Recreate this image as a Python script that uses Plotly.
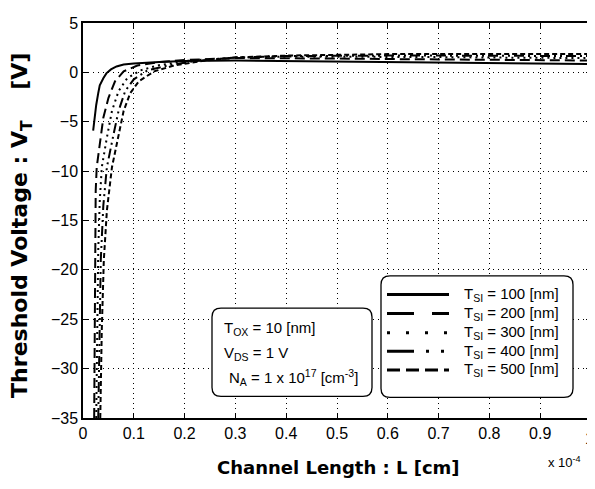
import plotly.graph_objects as go

# ---- data (L in units of 1e-4 cm, VT in V) ----
L_100 = [0.020, 0.023, 0.026, 0.030, 0.033, 0.040, 0.046, 0.055, 0.066, 0.080, 0.100, 0.150, 0.200, 0.300, 0.400, 0.500, 0.600, 0.700, 0.800, 0.900, 1.000]
V_100 = [-5.9, -4.5, -3.3, -2.1, -1.3, -0.6, -0.1, 0.3, 0.6, 0.8, 0.9, 1.05, 1.15, 1.2, 1.15, 1.1, 1.05, 1.0, 0.95, 0.9, 0.85]

L_200 = [0.022, 0.023, 0.024, 0.025, 0.027, 0.033, 0.040, 0.050, 0.063, 0.080, 0.107, 0.150, 0.200, 0.300, 0.400, 0.500, 0.600, 0.700, 0.800, 0.900, 1.000]
V_200 = [-35, -25, -18, -12, -9.6, -7.3, -4.6, -2.6, -0.9, 0.1, 0.7, 1.05, 1.25, 1.45, 1.45, 1.4, 1.35, 1.3, 1.25, 1.2, 1.2]

L_300 = [0.026, 0.028, 0.030, 0.033, 0.037, 0.047, 0.057, 0.070, 0.087, 0.113, 0.147, 0.200, 0.250, 0.300, 0.400, 0.500, 0.600, 0.700, 0.800, 0.900, 1.000]
V_300 = [-35, -25, -18, -13, -9.6, -6.6, -3.9, -1.9, -0.6, 0.2, 0.7, 1.15, 1.35, 1.5, 1.6, 1.6, 1.6, 1.55, 1.5, 1.5, 1.45]

L_400 = [0.030, 0.032, 0.035, 0.040, 0.047, 0.060, 0.070, 0.083, 0.100, 0.127, 0.167, 0.220, 0.300, 0.400, 0.500, 0.600, 0.700, 0.800, 0.900, 1.000]
V_400 = [-35, -26, -19, -13.5, -9.6, -6.3, -3.9, -1.9, -0.7, 0.2, 0.7, 1.15, 1.5, 1.65, 1.7, 1.7, 1.7, 1.7, 1.65, 1.65]

L_500 = [0.034, 0.037, 0.041, 0.047, 0.057, 0.070, 0.080, 0.093, 0.110, 0.140, 0.180, 0.240, 0.300, 0.400, 0.500, 0.600, 0.700, 0.800, 0.900, 1.000]
V_500 = [-35, -26, -19, -14, -9.6, -6.3, -3.9, -2.1, -0.9, 0.1, 0.7, 1.2, 1.5, 1.7, 1.8, 1.85, 1.85, 1.85, 1.85, 1.85]

series_labels = ["100", "200", "300", "400", "500"]
x_ticks = [0, 0.1, 0.2, 0.3, 0.4, 0.5, 0.6, 0.7, 0.8, 0.9, 1.0]
x_ticktext = ["0", "0.1", "0.2", "0.3", "0.4", "0.5", "0.6", "0.7", "0.8", "0.9", "1"]
y_ticks = [-35, -30, -25, -20, -15, -10, -5, 0, 5]

series = [(L_100, V_100), (L_200, V_200), (L_300, V_300), (L_400, V_400), (L_500, V_500)]
trace_dash = ["solid", "10px,5px", "2px,4px", "10px,4px,2px,4px,2px,4px", "5px,3px"]
legend_dash = ["solid", "27px,18px", "3px,16px", "27px,12px,3px,12px,3px,12px", "13px,6px"]

W, H = 595, 489
OFF = 8  # page body margin offset in the screenshot
# target plot area in screenshot pixels: x 83..591, y 15..418
ML = 83 - OFF
MT = 15 - OFF
MR = W - (591 - OFF)
MB = H - (418 - OFF)
PW, PH = W - ML - MR, H - MT - MB


def P(x, y):
    """screenshot pixel -> paper coords"""
    return ((x - OFF - ML) / PW, (H - MB - (y - OFF)) / PH)


def rounded_path(x0, y0, x1, y1, r):
    def pt(x, y):
        a, b = P(x, y)
        return f"{a:.5f},{b:.5f}"
    return (f"M {pt(x0+r,y0)} L {pt(x1-r,y0)} Q {pt(x1,y0)} {pt(x1,y0+r)} "
            f"L {pt(x1,y1-r)} Q {pt(x1,y1)} {pt(x1-r,y1)} L {pt(x0+r,y1)} "
            f"Q {pt(x0,y1)} {pt(x0,y1-r)} L {pt(x0,y0+r)} Q {pt(x0,y0)} {pt(x0+r,y0)} Z")


fig = go.Figure()
for (lx, vy), d, lab in zip(series, trace_dash, series_labels):
    fig.add_trace(go.Scatter(x=lx, y=vy, mode="lines",
                             line=dict(color="black", width=2, dash=d),
                             name=f"T_SI = {lab} [nm]", showlegend=False))

shapes = []
annotations = []
tfont = dict(family="Liberation Sans, Arial, sans-serif", size=15, color="black")
tickfont = dict(family="Liberation Sans, Arial, sans-serif", size=16, color="black")

# parameter box
shapes.append(dict(type="path", xref="paper", yref="paper",
                   path=rounded_path(212, 306, 372, 396, 9),
                   line=dict(color="black", width=1.3), fillcolor="white", layer="above"))
for txt, yy, xx in [("T<sub>OX</sub> = 10 [nm]", 327, 222),
                    ("V<sub>DS</sub> = 1 V", 352, 222),
                    ("N<sub>A</sub> = 1 x 10<sup>17</sup> [cm<sup>-3</sup>]", 377, 227)]:
    a, b = P(xx, yy)
    annotations.append(dict(x=a, y=b, xref="paper", yref="paper", text=txt,
                            showarrow=False, xanchor="left", yanchor="middle", font=tfont))

# legend box
shapes.append(dict(type="path", xref="paper", yref="paper",
                   path=rounded_path(381, 273, 573, 397, 9),
                   line=dict(color="black", width=1.3), fillcolor="white", layer="above"))
rows_y = [292, 311.5, 331, 350, 369]
for lab, d, yy in zip(series_labels, legend_dash, rows_y):
    a0, b0 = P(387, yy)
    a1, _ = P(449, yy)
    shapes.append(dict(type="line", xref="paper", yref="paper", x0=a0, x1=a1, y0=b0, y1=b0,
                       line=dict(color="black", width=3, dash=d), layer="above"))
    a, b = P(462, yy)
    annotations.append(dict(x=a, y=b, xref="paper", yref="paper",
                            text=f"T<sub>SI</sub> = {lab} [nm]", showarrow=False,
                            xanchor="left", yanchor="middle", font=tfont))

# last x tick label (plotly drops it at the right edge of the page)
_, b = P(0, 439)
annotations.append(dict(x=x_ticks[-1], y=b, xref="x", yref="paper", text=x_ticktext[-1],
                        showarrow=False, xanchor="center", yanchor="middle", xshift=-2,
                        font=tickfont))
x_ticktext_axis = x_ticktext[:-1] + [" "]

# axis titles and exponent
bfont = dict(family="DejaVu Sans, Arial Black, sans-serif", size=18, color="black", weight="bold")
a, b = P(338, 468)
annotations.append(dict(x=a, y=b, xref="paper", yref="paper", text="Channel Length : L [cm]",
                        showarrow=False, xanchor="center", yanchor="middle", font=bfont))
a, b = P(22, 222)
annotations.append(dict(x=a, y=b, xref="paper", yref="paper",
                        text="Threshold Voltage : V<sub>T</sub>    [V]", textangle=-90,
                        showarrow=False, xanchor="center", yanchor="middle",
                        font=dict(bfont, size=22)))
a, b = P(564, 463)
annotations.append(dict(x=a, y=b, xref="paper", yref="paper", text="x 10<sup>-4</sup>",
                        showarrow=False, xanchor="center", yanchor="middle",
                        font=dict(family="Liberation Sans, Arial, sans-serif", size=13, color="black")))

axis_common = dict(showline=True, linecolor="black", linewidth=1.5, mirror="ticks",
                   ticks="inside", ticklen=5, tickcolor="black", tickwidth=1,
                   showgrid=True, gridcolor="black", gridwidth=1, griddash="1px,4px",
                   zeroline=False, tickfont=tickfont)

fig.update_layout(
    width=W, height=H,
    margin=dict(l=ML, r=MR, t=MT, b=MB),
    paper_bgcolor="white", plot_bgcolor="white",
    shapes=shapes, annotations=annotations,
    xaxis=dict(range=[0, 1], tickvals=x_ticks, ticktext=x_ticktext_axis, **axis_common),
    yaxis=dict(range=[-35, 5], tickvals=y_ticks, **axis_common),
)

fig.write_html("out.html")
